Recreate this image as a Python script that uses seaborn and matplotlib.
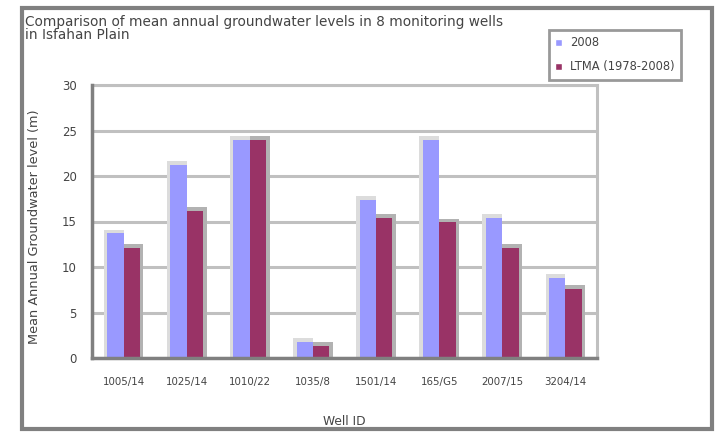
import matplotlib
matplotlib.use("Agg")
import matplotlib.pyplot as plt
from matplotlib.patches import Rectangle
import seaborn as sns
import pandas as pd
import numpy as np

# Mean annual groundwater level per monitoring well
wells = ["1005/14", "1025/14", "1010/22", "1035/8", "1501/14", "165/G5", "2007/15", "3204/14"]
level_2008 = [13.7, 21.2, 24.0, 1.8, 17.4, 24.0, 15.4, 8.8]
level_ltma = [12.1, 16.2, 24.0, 1.35, 15.4, 14.9, 12.1, 7.6]
series_names = ["2008", "LTMA (1978-2008)"]
y_ticks = [0, 5, 10, 15, 20, 25, 30]

df = pd.DataFrame({
    "well": wells * 2,
    "level": level_2008 + level_ltma,
    "series": [series_names[0]] * len(wells) + [series_names[1]] * len(wells),
})

BLUE = "#9999FF"
PLUM = "#993366"
GRID = "#C0C0C0"
DARK = "#808080"
TXT = "#444444"

sns.set_style("white")
plt.rcParams["font.family"] = ["DejaVu Sans"]

W, H = 722, 432
fig = plt.figure(figsize=(W / 100, H / 100), dpi=100)
ax = fig.add_axes([92 / W, 1 - 358 / H, (597 - 92) / W, (358 - 85) / H])

sns.barplot(data=df, x="well", y="level", hue="series", order=wells,
            hue_order=series_names, palette=[BLUE, PLUM], saturation=1,
            width=0.52, dodge=True, legend=False, ax=ax, zorder=3,
            linewidth=0, edgecolor="none")

# soft drop shadows behind each bar
dx, dy = 0.055, 0.42
for patch, col in zip(ax.patches[:2 * len(wells)],
                      [BLUE] * len(wells) + [PLUM] * len(wells)):
    x, w, h = patch.get_x(), patch.get_width(), patch.get_height()
    if col == BLUE:
        sh = Rectangle((x - dx, 0), w + dx, h + dy, facecolor="#DCDCDC",
                       edgecolor="none", zorder=2)
    else:
        sh = Rectangle((x, 0), w + dx, h + dy, facecolor="#B2B2B2",
                       edgecolor="none", zorder=2)
    ax.add_patch(sh)

ax.set_ylim(0, 30)
ax.set_xlim(-0.5, len(wells) - 0.5)
ax.set_yticks(y_ticks)
ax.yaxis.grid(True, color=GRID, linewidth=2.2, zorder=0)
ax.set_axisbelow(True)

for side in ["top", "right"]:
    ax.spines[side].set_color(GRID)
    ax.spines[side].set_linewidth(2.2)
for side in ["left", "bottom"]:
    ax.spines[side].set_color(DARK)
    ax.spines[side].set_linewidth(2.5)
    ax.spines[side].set_zorder(5)

ax.tick_params(axis="y", direction="out", length=4, width=2, color=DARK,
               labelsize=8.5, labelcolor=TXT, pad=7)
ax.tick_params(axis="x", which="major", length=0, labelsize=7.4,
               labelcolor=TXT, pad=14)
ax.set_xticks(np.arange(-0.5, len(wells), 1.0), minor=True)
ax.tick_params(axis="x", which="minor", direction="out", length=4, width=2,
               color=DARK)

ax.set_xlabel("Well ID", fontsize=8.8, color=TXT, labelpad=20)
ax.set_ylabel("Mean Annual Groundwater level (m)", fontsize=9.3, color=TXT)
ax.yaxis.set_label_coords(-0.10, 0.48)

fig.text(25 / W, 1 - 15 / H,
         "Comparison of mean annual groundwater levels in 8 monitoring wells\nin Isfahan Plain",
         fontsize=9.8, color=TXT, va="top", ha="left", linespacing=0.95)

handles = [Rectangle((0, 0), 1, 1, facecolor=BLUE), Rectangle((0, 0), 1, 1, facecolor=PLUM)]
leg = fig.legend(handles, series_names, loc="upper left",
                 bbox_to_anchor=(549 / W, 1 - 30 / H), fontsize=8.3,
                 frameon=True, fancybox=False, handlelength=0.6,
                 handleheight=0.6, handletextpad=0.7, borderpad=0.55,
                 labelspacing=0.95, borderaxespad=0)
leg.get_frame().set_edgecolor(DARK)
leg.get_frame().set_linewidth(2)
for t in leg.get_texts():
    t.set_color(TXT)

# chart border
fig.patches.append(Rectangle((22 / W, 1 - 429 / H), (712 - 22) / W, (429 - 8) / H,
                             transform=fig.transFigure, fill=False,
                             edgecolor=DARK, linewidth=3))

fig.savefig("out.png", dpi=100)
